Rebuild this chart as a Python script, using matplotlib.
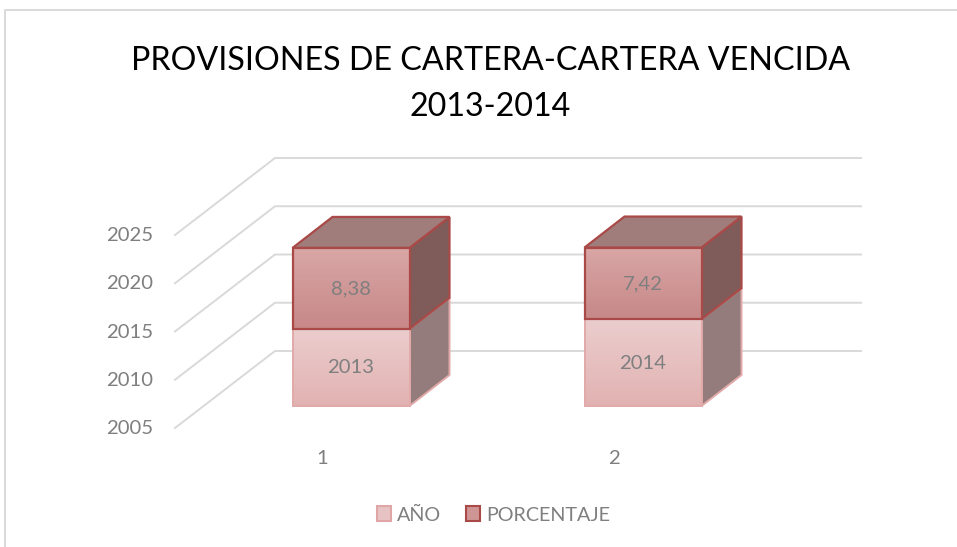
import numpy as np
import matplotlib
matplotlib.use('Agg')
import matplotlib.pyplot as plt
from matplotlib.patches import Patch, Polygon
from matplotlib.lines import Line2D
from matplotlib.colors import LinearSegmentedColormap

plt.rcParams['font.family'] = ['Lato', 'DejaVu Sans']

categories = ['1', '2']
anio = [2013, 2014]
porcentaje = [8.38, 7.42]
porcentaje_labels = ['8,38', '7,42']
y_ticks = [2005, 2010, 2015, 2020, 2025]
title = 'PROVISIONES DE CARTERA-CARTERA VENCIDA\n2013-2014'

W, H = 957, 547
PX_CAT = 292.0      # pixels per category
PX_VAL = 9.65       # pixels per value unit
BASE = 2005
TEXT = '#7f7f7f'
GRID = '#d9d9d9'
LABEL_SIZE = 14.6

fig = plt.figure(figsize=(W / 100, H / 100), dpi=100)
ax = fig.add_axes([0, 0, 1, 1])
xlim = (1 - 322 / PX_CAT, 1 + (W - 322) / PX_CAT)
ylim = (BASE - (H - 428) / PX_VAL, BASE + 428 / PX_VAL)
ax.axis('off')


def dx(px):
    return px / PX_CAT


def dy(px):
    return px / PX_VAL


# pseudo 3d: walls go back by this offset, the bars stand half way in
wall_dx, wall_dy = dx(100), dy(77)
plane_dx, plane_dy = dx(29), dy(22)
depth_dx, depth_dy = dx(40), dy(31)
half_w = dx(58.5)
wall_end = 1 + (861 - 322) / PX_CAT

for t in y_ticks:
    ax.plot([1 - dx(147), 1 - dx(147) + wall_dx, wall_end],
            [t, t + wall_dy, t + wall_dy], color=GRID, lw=1.4, zorder=1)
    ax.text(1 - dx(169), t - dy(0.5), str(t), ha='right', va='center',
            fontsize=LABEL_SIZE, color=TEXT)

for i, c in enumerate(categories):
    ax.text(i + 1, BASE - dy(30.5), c, ha='center', va='center', fontsize=LABEL_SIZE, color=TEXT)


def gradient_face(x0, x1, y0, y1, top, bottom, edge, lw):
    cmap = LinearSegmentedColormap.from_list('f', [top, bottom])
    grad = np.linspace(0, 1, 64).reshape(-1, 1)
    im = ax.imshow(grad, extent=(x0, x1, y0, y1), origin='upper', aspect='auto',
                   cmap=cmap, zorder=3, interpolation='bilinear')
    poly = Polygon([(x0, y0), (x1, y0), (x1, y1), (x0, y1)], closed=True, fill=False,
                   edgecolor=edge, lw=lw, zorder=3.5)
    ax.add_patch(poly)
    return im


def box(xc, y0, y1, face, side, top, edge, lw, zo):
    x0 = xc - half_w + plane_dx
    x1 = xc + half_w + plane_dx
    b0 = y0 + plane_dy
    b1 = y1 + plane_dy
    ax.add_patch(Polygon([(x1, b0), (x1 + depth_dx, b0 + depth_dy),
                          (x1 + depth_dx, b1 + depth_dy), (x1, b1)],
                         facecolor=side, edgecolor=edge, lw=lw, zorder=zo))
    if top is not None:
        ax.add_patch(Polygon([(x0, b1), (x1, b1), (x1 + depth_dx, b1 + depth_dy),
                              (x0 + depth_dx, b1 + depth_dy)],
                             facecolor=top, edgecolor=edge, lw=lw, zorder=zo))
    gradient_face(x0, x1, b0, b1, face[0], face[1], edge, lw)


for i in range(len(categories)):
    xc = i + 1
    y_a = anio[i]
    y_p = anio[i] + porcentaje[i]
    box(xc, BASE, y_a, ('#ebcdcd', '#e2b2b2'), '#937c7b', None, '#e2a9a9', 1.4, 2.5)
    box(xc, y_a, y_p, ('#d9a6a6', '#c78888'), '#7f5c59', '#a07c7a', '#aa4a48', 1.6, 2.6)
    ax.text(xc + plane_dx, (BASE + y_a) / 2 + plane_dy - dy(0.5), str(anio[i]), ha='center',
            va='center', fontsize=LABEL_SIZE, color=TEXT, zorder=5)
    ax.text(xc + plane_dx, (y_a + y_p) / 2 + plane_dy - dy(0.5), porcentaje_labels[i], ha='center',
            va='center', fontsize=LABEL_SIZE, color=TEXT, zorder=5)

ax.set_xlim(xlim)
ax.set_ylim(ylim)

# chart frame
fig.add_artist(Line2D([5 / W, 5 / W, 1], [0, 1 - 10 / H, 1 - 10 / H], color=GRID, lw=1.4))

fig.text(490.5 / W, 1 - 84 / H, title, ha='center', va='center', fontsize=23.2,
         color='black', linespacing=1.68)

handles = [Patch(facecolor='#e8c3c3', edgecolor='#e0a5a5', lw=1.5),
           Patch(facecolor='#cf9595', edgecolor='#aa4a48', lw=1.5)]
fig.legend(handles, ['AÑO', 'PORCENTAJE'], loc='center', bbox_to_anchor=(493.5 / W, 1 - 515 / H),
           ncol=2, frameon=False, fontsize=14.2, labelcolor=TEXT, handlelength=0.7,
           handleheight=0.75, handletextpad=0.3, columnspacing=1.3)

fig.savefig('out.png', dpi=100)
